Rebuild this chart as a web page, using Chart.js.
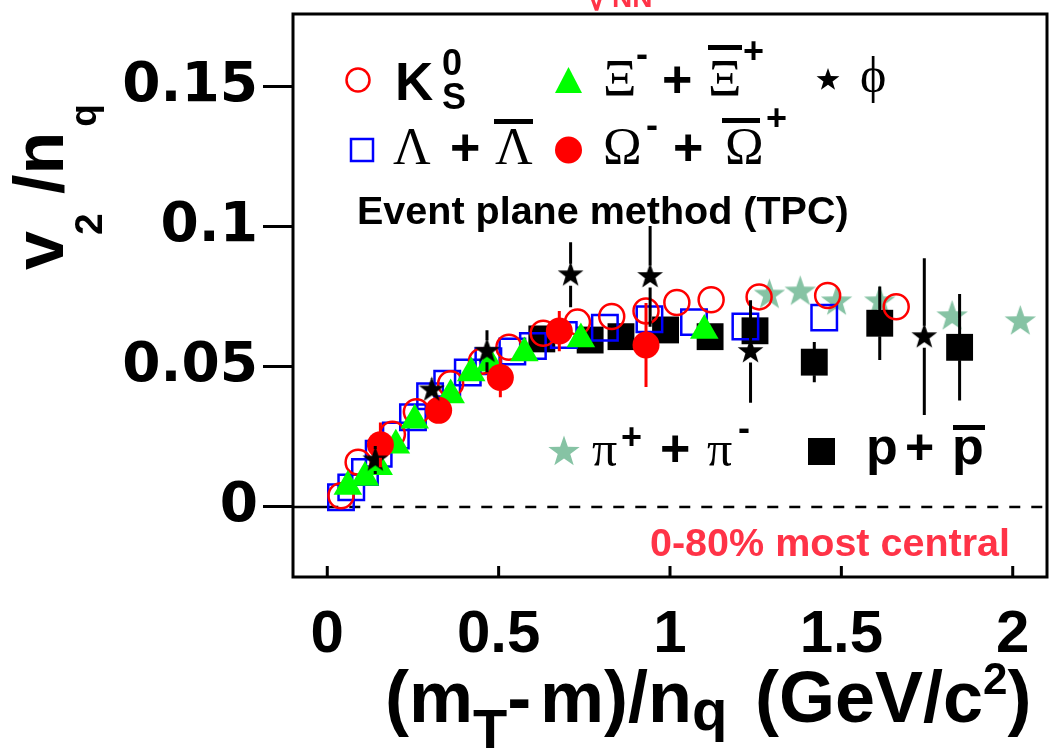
<!DOCTYPE html>
<html>
<head>
<meta charset="utf-8">
<script src="https://cdn.jsdelivr.net/npm/chart.js@4.4.1/dist/chart.umd.min.js"></script>
<style>
body { margin: 0; background: #fff; }
#wrap { position: relative; width: 1052px; height: 749px; overflow: hidden; }
#c { position: absolute; left: 0; top: 0; }
.t { position: absolute; white-space: nowrap; line-height: 1; color: #000; }
.sans { font-family: "Liberation Sans", Arial, sans-serif; font-weight: bold; }
.serif { font-family: "Liberation Serif", "DejaVu Serif", serif; }
.bar { position: absolute; background: #000; }
.rel { position: relative; }
</style>
</head>
<body>
<div id="wrap"><canvas id="c" width="1052" height="749"></canvas></div>
<script>
// tick values
const xTicks = [0, 0.5, 1, 1.5, 2]
const yTicks = [0, 0.05, 0.1, 0.15]

// K0s
const k0sX = [0.04, 0.09, 0.19, 0.26, 0.36, 0.45, 0.53, 0.63, 0.73, 0.83, 0.93, 1.02, 1.12, 1.26, 1.46, 1.66]
const k0sY = [0.004, 0.016, 0.026, 0.034, 0.044, 0.052, 0.057, 0.062, 0.066, 0.068, 0.070, 0.073, 0.074, 0.075, 0.0755, 0.0715]

// Lambda + anti-Lambda
const lamX = [0.04, 0.07, 0.11, 0.15, 0.20, 0.25, 0.30, 0.35, 0.41, 0.47, 0.54, 0.60, 0.69, 0.81, 0.94, 1.07, 1.22, 1.45]
const lamY = [0.0035, 0.007, 0.0125, 0.019, 0.0255, 0.032, 0.0395, 0.044, 0.048, 0.052, 0.0555, 0.0575, 0.0614, 0.064, 0.067, 0.066, 0.0644, 0.0676]

// Xi
const xiX = [0.06, 0.11, 0.15, 0.20, 0.255, 0.36, 0.42, 0.475, 0.575, 0.74, 1.10]
const xiY = [0.0073, 0.0105, 0.0144, 0.022, 0.031, 0.040, 0.0478, 0.0513, 0.055, 0.060, 0.063]

// Omega
const omX = [0.155, 0.325, 0.505, 0.677, 0.93]
const omY = [0.0222, 0.0345, 0.0462, 0.0628, 0.0578]
const omErr = [0.008, 0.004, 0.007, 0.0072, 0.015]

// phi
const phiX = [0.14, 0.305, 0.466, 0.71, 0.942, 1.235, 1.742]
const phiY = [0.0168, 0.0418, 0.0556, 0.0829, 0.0823, 0.0555, 0.0608]
const phiErr = [0.005, 0.004, 0.0075, 0.0116, 0.018, 0.0183, 0.028]

// pions
const piX = [1.29, 1.38, 1.486, 1.612, 1.823, 2.022]
const piY = [0.0757, 0.0768, 0.0733, 0.0733, 0.068, 0.0662]

// protons
const pX = [0.626, 0.767, 0.857, 0.987, 1.117, 1.248, 1.421, 1.612, 1.845]
const pY = [0.060, 0.0596, 0.0608, 0.0632, 0.0608, 0.0629, 0.0517, 0.0656, 0.057]
const pErr = [0.002, 0.002, 0.002, 0.002, 0.002, 0.003, 0.0072, 0.0131, 0.019]

const wrap = document.getElementById("wrap")

function xy(xs, ys) {
    return xs.map((x, i) => ({x: x, y: ys[i]}))
}

function drawStar(ctx, cx, cy, R, color) {
    ctx.beginPath()
    for (let k = 0; k < 10; k++) {
        const r = k % 2 ? R * 0.4 : R
        const a = -Math.PI / 2 + k * Math.PI / 5
        const px = cx + r * Math.cos(a), py = cy + r * Math.sin(a)
        if (k) ctx.lineTo(px, py)
        else ctx.moveTo(px, py)
    }
    ctx.closePath()
    ctx.fillStyle = color
    ctx.fill()
}

function starImage(R, color) {
    const c = document.createElement("canvas")
    c.width = c.height = Math.ceil(2 * R + 2)
    drawStar(c.getContext("2d"), c.width / 2, c.height / 2, R, color)
    return c
}

// vertical error bars, leaving a gap where the marker sits
const errorBars = {
    id: "errorBars",
    afterDatasetsDraw(chart) {
        const ctx = chart.ctx
        const xs = chart.scales.x, ys = chart.scales.y
        chart.data.datasets.forEach(ds => {
            if (!ds.err) return
            ctx.save()
            ctx.strokeStyle = ds.errColor
            ctx.lineWidth = 3
            ds.data.forEach((p, j) => {
                const px = xs.getPixelForValue(p.x)
                const py = ys.getPixelForValue(p.y)
                const top = ys.getPixelForValue(p.y + ds.err[j])
                const bot = ys.getPixelForValue(p.y - ds.err[j])
                ctx.beginPath()
                if (py - top > ds.errGap) { ctx.moveTo(px, top); ctx.lineTo(px, py - ds.errGap) }
                if (bot - py > ds.errGap) { ctx.moveTo(px, py + ds.errGap); ctx.lineTo(px, bot) }
                ctx.stroke()
            })
            ctx.restore()
        })
    }
}

// frame, zero line, inner x ticks, legend markers
const decorations = {
    id: "decorations",
    beforeDatasetsDraw(chart) {
        const ctx = chart.ctx
        const a = chart.chartArea
        const y0 = chart.scales.y.getPixelForValue(0)
        const x0 = chart.scales.x.getPixelForValue(0)
        ctx.save()
        ctx.strokeStyle = "#000"
        ctx.lineWidth = 2.5
        ctx.beginPath()
        ctx.moveTo(a.left, y0); ctx.lineTo(x0, y0)
        ctx.stroke()
        ctx.setLineDash([11, 11])
        ctx.beginPath()
        ctx.moveTo(x0, y0); ctx.lineTo(a.right, y0)
        ctx.stroke()
        ctx.restore()
    },
    afterDraw(chart) {
        const ctx = chart.ctx
        const a = chart.chartArea
        ctx.save()
        ctx.strokeStyle = "#000"
        ctx.lineWidth = 3
        ctx.strokeRect(a.left, a.top, a.right - a.left, a.bottom - a.top)
        ctx.beginPath()
        xTicks.forEach(v => {
            const px = chart.scales.x.getPixelForValue(v)
            ctx.moveTo(px, a.bottom); ctx.lineTo(px, a.bottom - 11)
        })
        ctx.stroke()

        // legend markers
        ctx.lineWidth = 2.5
        ctx.strokeStyle = "#ff0000"
        ctx.beginPath(); ctx.arc(358, 80, 11.5, 0, 2 * Math.PI); ctx.stroke()
        ctx.fillStyle = "#00ff00"
        ctx.beginPath(); ctx.moveTo(555, 93); ctx.lineTo(582, 93); ctx.lineTo(568.5, 67); ctx.closePath(); ctx.fill()
        drawStar(ctx, 828, 80, 12, "#000")
        ctx.strokeStyle = "#0000ff"
        ctx.strokeRect(351, 139, 22, 22)
        ctx.fillStyle = "#ff0000"
        ctx.beginPath(); ctx.arc(568.5, 150, 13.5, 0, 2 * Math.PI); ctx.fill()
        drawStar(ctx, 564, 452, 16.5, "#86c3a4")
        ctx.fillStyle = "#000"
        ctx.fillRect(808, 438, 27, 27)
        ctx.restore()
    }
}

new Chart(document.getElementById("c").getContext("2d"), {
    type: "scatter",
    data: {
        datasets: [
            {label: "pi", data: xy(piX, piY), pointStyle: starImage(16.5, "#86c3a4"), pointRadius: 16, order: 7},
            {label: "p", data: xy(pX, pY), pointStyle: "rect", pointRadius: 19, backgroundColor: "#000", borderColor: "#000", borderWidth: 0,
                err: pErr, errColor: "#000", errGap: 13, order: 6},
            {label: "Lambda", data: xy(lamX, lamY), pointStyle: "rect", pointRadius: 18, backgroundColor: "rgba(0,0,0,0)", borderColor: "#0000ff", borderWidth: 2.5, order: 5},
            {label: "K0s", data: xy(k0sX, k0sY), pointStyle: "circle", pointRadius: 12.5, backgroundColor: "rgba(0,0,0,0)", borderColor: "#ff0000", borderWidth: 2.5, order: 4},
            {label: "Xi", data: xy(xiX, xiY), pointStyle: "triangle", pointRadius: 16.5, backgroundColor: "#00ff00", borderColor: "#00ff00", borderWidth: 0, order: 3},
            {label: "Omega", data: xy(omX, omY), pointStyle: "circle", pointRadius: 13.5, backgroundColor: "#ff0000", borderColor: "#ff0000", borderWidth: 0,
                err: omErr, errColor: "#ff0000", errGap: 13, order: 2},
            {label: "phi", data: xy(phiX, phiY), pointStyle: starImage(13.5, "#000"), pointRadius: 13, err: phiErr, errColor: "#000", errGap: 11, order: 1}
        ]
    },
    options: {
        responsive: false,
        animation: false,
        devicePixelRatio: 1,
        layout: {autoPadding: false, padding: {top: 14, right: 5, left: 0, bottom: 0}},
        plugins: {legend: {display: false}, tooltip: {enabled: false}},
        scales: {
            x: {
                type: "linear", min: -0.1, max: 2.1,
                afterBuildTicks: s => { s.ticks = xTicks.map(v => ({value: v})) },
                afterFit: s => { s.height = 172; s.paddingLeft = 0; s.paddingRight = 0 },
                grid: {display: false},
                border: {display: false},
                ticks: {
                    font: {family: "Liberation Sans", weight: "bold", size: 60},
                    color: "#000", padding: 14, maxRotation: 0, autoSkip: false,
                    callback: v => String(v)
                }
            },
            y: {
                type: "linear", min: -0.025, max: 0.176,
                afterBuildTicks: s => { s.ticks = yTicks.map(v => ({value: v})) },
                afterFit: s => { s.width = 293; s.paddingTop = 0; s.paddingBottom = 0 },
                grid: {drawOnChartArea: false, drawTicks: true, tickLength: 30, lineWidth: 3, color: "#000"},
                border: {display: false},
                ticks: {
                    font: {family: "DejaVu Sans", weight: "bold", size: 55},
                    color: "#000", padding: 5,
                    callback: v => String(v)
                }
            }
        }
    },
    plugins: [decorations, errorBars]
})

// text placed by baseline
function put(html, x, base, size, cls, color) {
    const d = document.createElement("div")
    d.className = "t " + cls
    d.style.left = x + "px"
    d.style.top = (base - 0.845 * size) + "px"
    d.style.fontSize = size + "px"
    if (color) d.style.color = color
    d.innerHTML = html
    wrap.appendChild(d)
    return d
}

function bar(x, y, w, h) {
    const d = document.createElement("div")
    d.className = "bar"
    d.style.left = x + "px"; d.style.top = y + "px"
    d.style.width = w + "px"; d.style.height = h + "px"
    wrap.appendChild(d)
}

// cut-off title at the very top
put("√", 586, 10, 40, "sans", "#ff3347")
put("NN", 612, 8, 28, "sans", "#ff3347")

// legend row 1
put("K", 395, 100, 53, "sans")
put("0", 442, 75, 36, "sans")
put("S", 442, 109, 36, "sans")
put("Ξ", 603, 97, 52, "serif")
put("-", 636, 66, 36, "sans")
put("+", 662, 97, 52, "sans")
put("Ξ", 708, 97, 52, "serif")
bar(708, 45, 34, 5)
put("+", 743, 63, 36, "sans")
put("ϕ", 860, 92, 50, "serif")

// legend row 2
put("Λ", 393, 165, 52, "serif")
put("+", 450, 165, 52, "sans")
put("Λ", 495, 165, 52, "serif")
bar(494, 119, 39, 5)
put("Ω", 603, 165, 52, "serif")
put("-", 646, 137, 36, "sans")
put("+", 673, 165, 52, "sans")
put("Ω", 725, 165, 52, "serif")
bar(722, 118, 38, 5)
put("+", 766, 130, 36, "sans")

put("Event plane method (TPC)", 357, 224, 39.5, "sans")

// pi and p legend
put("π", 592, 466, 50, "serif")
put("+", 621, 449, 36, "sans")
put("+", 660, 466, 52, "sans")
put("π", 707, 466, 50, "serif")
put("-", 738, 440, 36, "sans")
put("p", 866, 464, 52, "sans")
put("+", 905, 464, 50, "sans")
put("p", 952, 464, 52, "sans")
bar(953, 425, 32, 5)

put("0-80% most central", 650, 556, 39.5, "sans", "#ff3347")

// x axis title
put('(m<span class="rel" style="font-size:56px;top:26px">T</span>-', 385, 722, 72, "sans")
put('m)/n<span class="rel" style="font-size:58px;top:8px">q</span>', 540, 722, 72, "sans")
put('(GeV/c<span class="rel" style="font-size:44px;top:-28px">2</span>)', 755, 722, 72, "sans")

// y axis title, rotated
const yt = put('v<span class="rel" style="font-size:39px;top:39px;margin-left:-4px">2</span> /n<span class="rel" style="font-size:37px;top:33px;margin-left:5px">q</span>', 0, 0, 70, "sans")
yt.style.left = (63 - 0.845 * 70) + "px"
yt.style.top = "270px"
yt.style.transformOrigin = "0 0"
yt.style.transform = "rotate(-90deg)"
</script>
</body>
</html>
